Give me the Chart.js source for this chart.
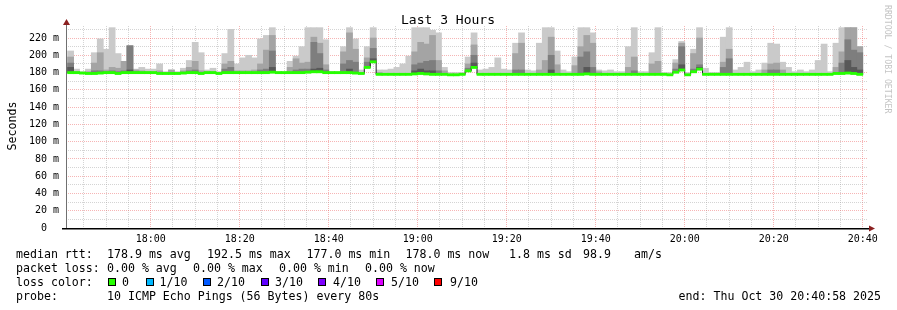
<!DOCTYPE html>
<html><head><meta charset="utf-8">
<script src="https://cdn.jsdelivr.net/npm/chart.js@4/dist/chart.umd.min.js"></script>
<style>html,body{margin:0;padding:0;background:#fff;overflow:hidden}</style>
</head><body>
<canvas id="c" width="897" height="310"></canvas>
<script>
// ---- time axis (seconds since midnight) ----
const startTime = 63658;      // 17:40:58
const endTime = 74458;        // 20:40:58
const firstSample = 63720;    // centre of first 80 s step
const stepSeconds = 80;
const _ = null;

// ---- median rtt per step (ms) ----
const median = [
180,180,179.5,179,179,179.5,180,180,179,180,
180,180,180,180,180,179,179,179,179,179.5,
180,180,179,180,180,179,180,180,180,180,
180,180,180,180,180.5,180,180,180,180,180,
180.5,181,181,180,180,180,180,180,179.5,179,
186,192.5,178,178,178,178,178,178,178.5,179,
178.5,178,178,178,177.5,177.5,178,182,186,178,
178,178,178,178,178,178,178,178,178,178,
178,178,178,178,178,178,178,178.5,178,178,
178,178,178,178,178,178,178,178,178,178,
178,177.5,180.5,183,177.5,181,184,178,178,178,
178,178,178,178,178,178,178,178,178,178,
178,178,178,178,178,178,178,178,178,179,
179,179.5,179,178];

// ---- smoke: sorted pings (upper half), ms ----
const ping10 = [
205,184,181,184,203,219,207,232,202,193,
211,184,186,184,184,190,181,183,181,185,
194,215,203,183,185,181,202,230,190,197,
200,197,219,223,232,181,181,193,199,210,
232,232,232,218,181,181,210,232,219,183,
210,232,183,183,184,186,190,199,232,232,
232,229,226,186,180,180,180,198,226,183,
184,186,197,184,183,214,226,183,182,214,
232,232,205,183,181,198,232,232,226,183,
182,183,181,181,210,232,181,181,203,232,
180,180,195,216,180,207,232,185,180,180,
221,232,183,186,192,181,183,191,214,213,
192,186,181,183,181,183,194,213,181,214,
232,232,232,210];
const ping9 = [
198,181,_,181,191,203,183,186,185,193,
211,183,182,181,181,182,_,183,_,182,
186,193,182,181,181,_,190,193,182,182,
182,183,190,206,223,_,_,186,196,191,
192,221,214,189,_,_,204,226,207,_,
197,220,180,_,_,_,_,_,204,215,
213,223,194,182,_,_,_,190,212,_,
_,_,_,_,_,202,214,_,_,183,
194,221,189,_,_,188,210,223,214,181,
_,_,_,_,186,198,_,_,190,193,
_,_,191,214,_,202,220,_,_,_,
192,207,_,_,_,_,_,183,190,191,
183,_,_,_,_,_,_,_,_,186,
204,232,232,210];
const ping8 = [
191,_,_,_,182,182,181,182,181,182,
211,181,_,_,_,_,_,_,_,_,
182,183,_,_,_,_,184,186,_,_,
_,_,183,184,205,_,_,_,183,184,
184,215,202,183,_,_,190,194,192,_,
192,208,_,_,_,_,_,_,189,191,
193,194,182,_,_,_,_,185,200,_,
_,_,_,_,_,183,183,_,_,_,
_,200,_,_,_,_,198,204,186,_,
_,_,_,_,_,182,_,_,_,_,
_,_,184,210,_,184,189,_,_,_,
186,196,_,_,_,_,_,_,183,183,
_,_,_,_,_,_,_,_,_,_,
191,218,206,203];
const ping7 = [
186,_,_,_,_,_,_,_,_,_,
183,_,_,_,_,_,_,_,_,_,
_,_,_,_,_,_,_,_,_,_,
_,_,_,_,186,_,_,_,_,_,
_,184,185,_,_,_,_,184,_,_,
_,196,_,_,_,_,_,_,182,184,
182,182,_,_,_,_,_,_,191,_,
_,_,_,_,_,_,_,_,_,_,
_,183,_,_,_,_,_,186,_,_,
_,_,_,_,_,_,_,_,_,_,
_,_,_,189,_,_,186,_,_,_,
_,_,_,_,_,_,_,_,_,_,
_,_,_,_,_,_,_,_,_,_,
_,194,186,183];

// ---- tick values ----
const yTicks = [0,10,20,30,40,50,60,70,80,90,100,110,120,130,140,150,160,170,180,190,200,210,220,230];
const xTicks = [];
for (let v = 63900; v <= 74400; v += 300) xTicks.push(v);   // every 5 minutes

// ---- legend texts ----
const statsRtt = ['median rtt:', '178.9 ms avg', '192.5 ms max', '177.0 ms min', '178.0 ms now', '1.8 ms sd', '98.9', 'am/s'];
const statsLoss = ['packet loss:', '0.00 % avg', '0.00 % max', '0.00 % min', '0.00 % now'];
const lossLabels = ['0', '1/10', '2/10', '3/10', '4/10', '5/10', '9/10'];
const lossColors = ['#26ff00', '#00b8ff', '#0059ff', '#5e00ff', '#7e00ff', '#dd00ff', '#ff0000'];
const probeText = ['probe:', '10 ICMP Echo Pings (56 Bytes) every 80s'];
const endText = 'end: Thu Oct 30 20:40:58 2025';

const times = median.map((_v, i) => firstSample + i * stepSeconds);
const MONO = '"DejaVu Sans Mono", monospace';

function smokeLayer(vals, color, order) {
  return {
    type: 'bar', order, grouped: false, barPercentage: 1, categoryPercentage: 1, inflateAmount: 0.4,
    backgroundColor: color, borderWidth: 0,
    data: times.map((t, i) => vals[i] == null ? {x: t, y: null} : {x: t, y: [median[i], vals[i]]})
  };
}

const datasets = [
  { type: 'bar', order: 0, grouped: false, barPercentage: 1, categoryPercentage: 1, inflateAmount: 0.4,
    backgroundColor: lossColors[0], borderWidth: 0,
    data: times.map((t, i) => ({x: t, y: [median[i] - 1.2, median[i] + 1.2]})) },
  { type: 'line', order: 1, borderColor: '#202020', borderWidth: 1, pointRadius: 0, stepped: 'middle', fill: false,
    data: times.map((t, i) => ({x: t, y: median[i]})) },
  smokeLayer(ping7, '#585858', 2),
  smokeLayer(ping8, '#7e7e7e', 3),
  smokeLayer(ping9, '#a4a4a4', 4),
  smokeLayer(ping10, '#cacaca', 5)
];

const MAJ = 'rgba(235,90,90,0.45)';
const MIN = 'rgba(160,160,160,0.45)';

function hhmm(v) {
  const h = Math.floor(v / 3600), m = Math.floor((v % 3600) / 60);
  return String(h).padStart(2, '0') + ':' + String(m).padStart(2, '0');
}

const decor = {
  id: 'decor',
  beforeDraw(chart) {
    const ctx = chart.ctx;
    ctx.save(); ctx.fillStyle = '#fff'; ctx.fillRect(0, 0, chart.width, chart.height); ctx.restore();
  },
  afterDraw(chart) {
    const ctx = chart.ctx, a = chart.chartArea;
    ctx.save();
    // axes
    ctx.fillStyle = '#707070';
    ctx.fillRect(a.left, a.top - 2, 1, a.bottom - a.top + 2);
    ctx.fillStyle = '#000';
    ctx.fillRect(a.left - 4, a.bottom, a.right - a.left + 7, 1.5);
    // arrows
    ctx.fillStyle = '#8b2020';
    ctx.beginPath(); ctx.moveTo(a.left - 3, a.top - 1); ctx.lineTo(a.left + 4, a.top - 1); ctx.lineTo(a.left + 0.5, a.top - 7); ctx.closePath(); ctx.fill();
    ctx.beginPath(); ctx.moveTo(a.right + 2, a.bottom - 2.5); ctx.lineTo(a.right + 2, a.bottom + 3.5); ctx.lineTo(a.right + 8, a.bottom + 0.5); ctx.closePath(); ctx.fill();

    ctx.fillStyle = '#000';
    // title
    ctx.font = '13px ' + MONO; ctx.textAlign = 'center'; ctx.textBaseline = 'alphabetic';
    ctx.fillText('Last 3 Hours', 448, 24);
    // y title
    ctx.save(); ctx.translate(16, 126); ctx.rotate(-Math.PI / 2);
    ctx.font = '11.6px ' + MONO; ctx.textAlign = 'center'; ctx.fillText('Seconds', 0, 0); ctx.restore();
    // watermark
    ctx.save(); ctx.translate(885, 5); ctx.rotate(Math.PI / 2);
    ctx.fillStyle = '#c4c4c4'; ctx.font = '8.2px ' + MONO; ctx.textAlign = 'left'; ctx.fillText('RRDTOOL / TOBI OETIKER', 0, 0); ctx.restore();

    // legend
    ctx.font = '11.6px ' + MONO; ctx.textAlign = 'left'; ctx.fillStyle = '#000';
    const rttX = [16, 107, 207, 306.5, 405.5, 509, 583, 634];
    statsRtt.forEach((s, i) => ctx.fillText(s, rttX[i], 258));
    const lossX = [16, 107, 193, 279, 365];
    statsLoss.forEach((s, i) => ctx.fillText(s, lossX[i], 272));
    ctx.fillText('loss color:', 16, 286);
    const boxX = [108, 146, 203, 261, 318, 376, 434];
    const labX = [122, 159.5, 217, 275, 333, 391, 450];
    lossLabels.forEach((s, i) => {
      ctx.fillStyle = lossColors[i]; ctx.fillRect(boxX[i], 278, 8, 8);
      ctx.strokeStyle = '#000'; ctx.lineWidth = 1; ctx.strokeRect(boxX[i] + 0.5, 278.5, 7, 7);
      ctx.fillStyle = '#000'; ctx.fillText(s, labX[i], 286);
    });
    ctx.fillText(probeText[0], 16, 300);
    ctx.fillText(probeText[1], 107, 300);
    ctx.textAlign = 'right';
    ctx.fillText(endText, 881, 300);
    ctx.restore();
  }
};

new Chart(document.getElementById('c'), {
  type: 'bar',
  data: { datasets },
  options: {
    responsive: false, animation: false, devicePixelRatio: 1,
    layout: { padding: { top: 26, right: 30, bottom: 0, left: 0 } },
    plugins: { legend: { display: false }, tooltip: { enabled: false }, title: { display: false } },
    scales: {
      x: {
        type: 'linear', min: startTime, max: endTime, offset: false, z: 1,
        afterBuildTicks: ax => { ax.ticks = xTicks.map(v => ({ value: v })); },
        afterFit: ax => { ax.height = 82; ax.paddingLeft = 0; ax.paddingRight = 0; },
        ticks: { autoSkip: false, maxRotation: 0, minRotation: 0, padding: 5, color: '#000',
          font: { family: 'DejaVu Sans Mono', size: 10 },
          callback: v => (v % 1200 === 0 ? hhmm(v) : '') },
        grid: { offset: false, drawTicks: false, lineWidth: 1,
          color: c => (c.tick && c.tick.value % 1200 === 0 ? MAJ : MIN) },
        border: { display: false, dash: [1, 1] }
      },
      y: {
        type: 'linear', min: 0, max: 234, z: 1,
        afterBuildTicks: ax => { ax.ticks = yTicks.map(v => ({ value: v })); },
        afterFit: ax => { ax.width = 66; ax.paddingTop = 0; ax.paddingBottom = 0; },
        ticks: { autoSkip: false, padding: 7, color: '#000',
          font: { family: 'DejaVu Sans Mono', size: 10 },
          callback: v => (v % 20 !== 0 ? '' : (v === 0 ? '0  ' : v + ' m')) },
        grid: { drawTicks: false, lineWidth: 1,
          color: c => (c.tick && c.tick.value % 20 === 0 ? MAJ : MIN) },
        border: { display: false, dash: [1, 1] }
      }
    }
  },
  plugins: [decor]
});
</script>
</body></html>
